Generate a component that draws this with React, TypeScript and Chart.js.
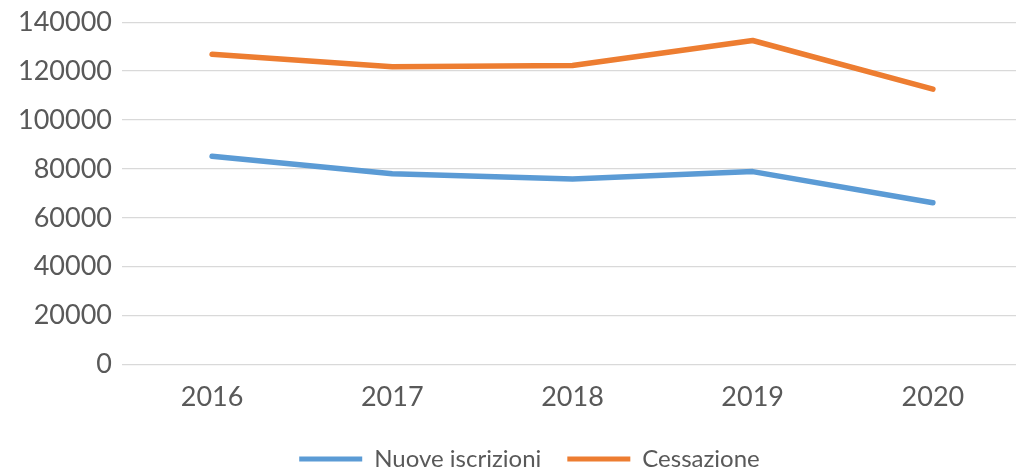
import React, { useEffect, useRef } from "react";
import { Chart, registerables } from "chart.js";

Chart.register(...registerables);

const years = ["2016", "2017", "2018", "2019", "2020"];
const nuoveIscrizioni = [85200, 78000, 75900, 78900, 66200];
const cessazione = [126900, 121800, 122300, 132500, 112600];
const yMin = 0;
const yMax = 140000;
const yStep = 20000;

const FONT = "Lato, 'Open Sans', sans-serif";

const legendShift = {
  id: "legendShift",
  afterLayout(chart: any) {
    const lg = chart.legend;
    if (lg) {
      lg.left += 14;
      lg.right += 14;
    }
  },
};

export default function App() {
  const ref = useRef<HTMLCanvasElement | null>(null);

  useEffect(() => {
    if (!ref.current) return;
    const chart = new Chart(ref.current, {
      type: "line",
      data: {
        labels: years,
        datasets: [
          {
            label: "Nuove iscrizioni",
            data: nuoveIscrizioni,
            borderColor: "#5B9BD5",
            backgroundColor: "#5B9BD5",
            borderWidth: 5.5,
            borderCapStyle: "round",
            borderJoinStyle: "round",
            pointRadius: 0,
            tension: 0,
          },
          {
            label: "Cessazione",
            data: cessazione,
            borderColor: "#ED7D31",
            backgroundColor: "#ED7D31",
            borderWidth: 5.5,
            borderCapStyle: "round",
            borderJoinStyle: "round",
            pointRadius: 0,
            tension: 0,
          },
        ],
      },
      plugins: [legendShift],
      options: {
        responsive: false,
        animation: false,
        layout: { padding: { top: 2, left: 8, right: 7, bottom: 0 } },
        plugins: {
          tooltip: { enabled: false },
          legend: {
            position: "bottom",
            labels: {
              color: "#595959",
              font: { family: FONT, size: 24 },
              boxWidth: 63,
              boxHeight: 5,
              padding: 26,
              generateLabels: (c: any) =>
                c.data.datasets.map((ds: any, i: number) => ({
                  text: ds.label,
                  fillStyle: ds.borderColor,
                  strokeStyle: ds.borderColor,
                  lineWidth: 0,
                  hidden: false,
                  datasetIndex: i,
                  fontColor: "#595959",
                })),
            },
          },
        },
        scales: {
          x: {
            offset: true,
            grid: { display: false },
            border: { display: false },
            ticks: {
              color: "#595959",
              font: { family: FONT, size: 27 },
              padding: 8,
              maxRotation: 0,
            },
          },
          y: {
            min: yMin,
            max: yMax,
            border: { display: false },
            grid: { color: "#D9D9D9", lineWidth: 1.3, drawTicks: false },
            ticks: {
              stepSize: yStep,
              color: "#595959",
              font: { family: FONT, size: 27, lineHeight: 0.9 },
              padding: 10,
              callback: (v: any) => String(v),
            },
          },
        },
      },
    });
    return () => chart.destroy();
  }, []);

  return (
    <div
      style={{
        position: "absolute",
        left: 0,
        top: 0,
        width: 1016,
        height: 470,
        overflow: "hidden",
        background: "#fff",
      }}
    >
      <canvas ref={ref} width={1030} height={481} style={{ width: 1030, height: 481, display: "block" }} />
    </div>
  );
}
